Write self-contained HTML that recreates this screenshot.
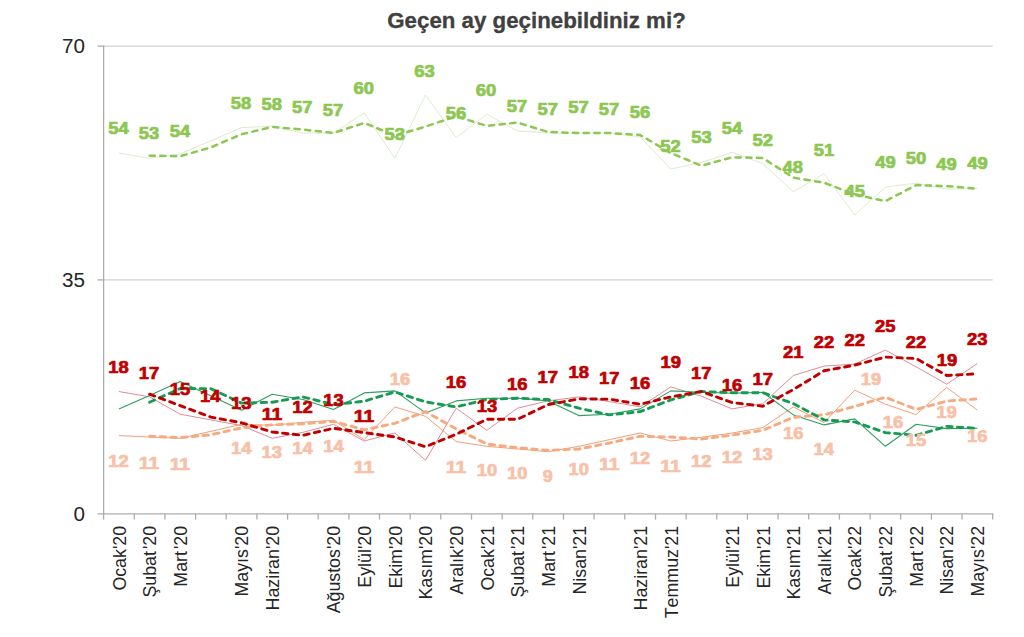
<!DOCTYPE html>
<html><head><meta charset="utf-8"><title>Chart</title>
<style>html,body{margin:0;padding:0;background:#fff;}body{width:1024px;height:637px;overflow:hidden;font-family:"Liberation Sans",sans-serif;}svg{display:block;position:absolute;left:0;top:0;font-family:"Liberation Sans",sans-serif;}</style></head><body>
<svg width="1024" height="637" viewBox="0 0 1024 637">
<rect width="1024" height="637" fill="#fff"/>
<text x="536.5" y="28.2" text-anchor="middle" font-weight="bold" font-size="21.80" fill="#404040" stroke="#404040" stroke-width="0.30" textLength="298.5" lengthAdjust="spacingAndGlyphs">Geçen ay geçinebildiniz mi?</text>
<line x1="103.6" y1="46.1" x2="992.7" y2="46.1" stroke="#d2d2d2" stroke-width="1.2"/>
<line x1="103.6" y1="279.9" x2="992.7" y2="279.9" stroke="#d2d2d2" stroke-width="1.2"/>
<line x1="103.6" y1="46.1" x2="103.6" y2="514.4" stroke="#adadad" stroke-width="1.3"/>
<line x1="97.6" y1="513.8" x2="993.3" y2="513.8" stroke="#adadad" stroke-width="1.3"/>
<line x1="97.6" y1="46.1" x2="104.2" y2="46.1" stroke="#adadad" stroke-width="1.3"/>
<line x1="97.6" y1="279.9" x2="104.2" y2="279.9" stroke="#adadad" stroke-width="1.3"/>
<line x1="103.6" y1="513.8" x2="103.6" y2="519.6" stroke="#adadad" stroke-width="1.3"/>
<line x1="134.3" y1="513.8" x2="134.3" y2="519.6" stroke="#adadad" stroke-width="1.3"/>
<line x1="164.9" y1="513.8" x2="164.9" y2="519.6" stroke="#adadad" stroke-width="1.3"/>
<line x1="195.6" y1="513.8" x2="195.6" y2="519.6" stroke="#adadad" stroke-width="1.3"/>
<line x1="226.2" y1="513.8" x2="226.2" y2="519.6" stroke="#adadad" stroke-width="1.3"/>
<line x1="256.9" y1="513.8" x2="256.9" y2="519.6" stroke="#adadad" stroke-width="1.3"/>
<line x1="287.6" y1="513.8" x2="287.6" y2="519.6" stroke="#adadad" stroke-width="1.3"/>
<line x1="318.2" y1="513.8" x2="318.2" y2="519.6" stroke="#adadad" stroke-width="1.3"/>
<line x1="348.9" y1="513.8" x2="348.9" y2="519.6" stroke="#adadad" stroke-width="1.3"/>
<line x1="379.5" y1="513.8" x2="379.5" y2="519.6" stroke="#adadad" stroke-width="1.3"/>
<line x1="410.2" y1="513.8" x2="410.2" y2="519.6" stroke="#adadad" stroke-width="1.3"/>
<line x1="440.8" y1="513.8" x2="440.8" y2="519.6" stroke="#adadad" stroke-width="1.3"/>
<line x1="471.5" y1="513.8" x2="471.5" y2="519.6" stroke="#adadad" stroke-width="1.3"/>
<line x1="502.2" y1="513.8" x2="502.2" y2="519.6" stroke="#adadad" stroke-width="1.3"/>
<line x1="532.8" y1="513.8" x2="532.8" y2="519.6" stroke="#adadad" stroke-width="1.3"/>
<line x1="563.5" y1="513.8" x2="563.5" y2="519.6" stroke="#adadad" stroke-width="1.3"/>
<line x1="594.1" y1="513.8" x2="594.1" y2="519.6" stroke="#adadad" stroke-width="1.3"/>
<line x1="624.8" y1="513.8" x2="624.8" y2="519.6" stroke="#adadad" stroke-width="1.3"/>
<line x1="655.5" y1="513.8" x2="655.5" y2="519.6" stroke="#adadad" stroke-width="1.3"/>
<line x1="686.1" y1="513.8" x2="686.1" y2="519.6" stroke="#adadad" stroke-width="1.3"/>
<line x1="716.8" y1="513.8" x2="716.8" y2="519.6" stroke="#adadad" stroke-width="1.3"/>
<line x1="747.4" y1="513.8" x2="747.4" y2="519.6" stroke="#adadad" stroke-width="1.3"/>
<line x1="778.1" y1="513.8" x2="778.1" y2="519.6" stroke="#adadad" stroke-width="1.3"/>
<line x1="808.7" y1="513.8" x2="808.7" y2="519.6" stroke="#adadad" stroke-width="1.3"/>
<line x1="839.4" y1="513.8" x2="839.4" y2="519.6" stroke="#adadad" stroke-width="1.3"/>
<line x1="870.1" y1="513.8" x2="870.1" y2="519.6" stroke="#adadad" stroke-width="1.3"/>
<line x1="900.7" y1="513.8" x2="900.7" y2="519.6" stroke="#adadad" stroke-width="1.3"/>
<line x1="931.4" y1="513.8" x2="931.4" y2="519.6" stroke="#adadad" stroke-width="1.3"/>
<line x1="962.0" y1="513.8" x2="962.0" y2="519.6" stroke="#adadad" stroke-width="1.3"/>
<line x1="992.7" y1="513.8" x2="992.7" y2="519.6" stroke="#adadad" stroke-width="1.3"/>
<text x="85.0" y="53.0" text-anchor="end" font-size="19.30" fill="#262626" textLength="23.0" lengthAdjust="spacingAndGlyphs">70</text>
<text x="85.0" y="286.8" text-anchor="end" font-size="19.30" fill="#262626" textLength="23.0" lengthAdjust="spacingAndGlyphs">35</text>
<text x="85.0" y="520.7" text-anchor="end" font-size="19.30" fill="#262626" textLength="11.5" lengthAdjust="spacingAndGlyphs">0</text>
<text transform="translate(125.6 525.9) rotate(-90) scale(1 1.070)" text-anchor="end" font-size="17.80" fill="#262626" style="font-kerning:none">Ocak'20</text>
<text transform="translate(156.3 525.9) rotate(-90) scale(1 1.070)" text-anchor="end" font-size="17.80" fill="#262626" style="font-kerning:none">Şubat<tspan dx="2">'</tspan>20</text>
<text transform="translate(186.9 525.9) rotate(-90) scale(1 1.070)" text-anchor="end" font-size="17.80" fill="#262626" style="font-kerning:none">Mart<tspan dx="2">'</tspan>20</text>
<text transform="translate(248.3 525.9) rotate(-90) scale(1 1.070)" text-anchor="end" font-size="17.80" fill="#262626" style="font-kerning:none">Mayıs'20</text>
<text transform="translate(278.9 525.9) rotate(-90) scale(1 1.070)" text-anchor="end" font-size="17.80" fill="#262626" style="font-kerning:none">Haziran'20</text>
<text transform="translate(340.2 525.9) rotate(-90) scale(1 1.070)" text-anchor="end" font-size="17.80" fill="#262626" style="font-kerning:none">Ağustos'20</text>
<text transform="translate(370.9 525.9) rotate(-90) scale(1 1.070)" text-anchor="end" font-size="17.80" fill="#262626" style="font-kerning:none">Eylül'20</text>
<text transform="translate(401.6 525.9) rotate(-90) scale(1 1.070)" text-anchor="end" font-size="17.80" fill="#262626" style="font-kerning:none">Ekim'20</text>
<text transform="translate(432.2 525.9) rotate(-90) scale(1 1.070)" text-anchor="end" font-size="17.80" fill="#262626" style="font-kerning:none">Kasım'20</text>
<text transform="translate(462.9 525.9) rotate(-90) scale(1 1.070)" text-anchor="end" font-size="17.80" fill="#262626" style="font-kerning:none">Aralık'20</text>
<text transform="translate(493.5 525.9) rotate(-90) scale(1 1.070)" text-anchor="end" font-size="17.80" fill="#262626" style="font-kerning:none">Ocak'21</text>
<text transform="translate(524.2 525.9) rotate(-90) scale(1 1.070)" text-anchor="end" font-size="17.80" fill="#262626" style="font-kerning:none">Şubat<tspan dx="2">'</tspan>21</text>
<text transform="translate(554.9 525.9) rotate(-90) scale(1 1.070)" text-anchor="end" font-size="17.80" fill="#262626" style="font-kerning:none">Mart<tspan dx="2">'</tspan>21</text>
<text transform="translate(585.5 525.9) rotate(-90) scale(1 1.070)" text-anchor="end" font-size="17.80" fill="#262626" style="font-kerning:none">Nisan'21</text>
<text transform="translate(646.8 525.9) rotate(-90) scale(1 1.070)" text-anchor="end" font-size="17.80" fill="#262626" style="font-kerning:none">Haziran'21</text>
<text transform="translate(677.5 525.9) rotate(-90) scale(1 1.070)" text-anchor="end" font-size="17.80" fill="#262626" style="font-kerning:none">Temmuz'21</text>
<text transform="translate(738.8 525.9) rotate(-90) scale(1 1.070)" text-anchor="end" font-size="17.80" fill="#262626" style="font-kerning:none">Eylül'21</text>
<text transform="translate(769.5 525.9) rotate(-90) scale(1 1.070)" text-anchor="end" font-size="17.80" fill="#262626" style="font-kerning:none">Ekim'21</text>
<text transform="translate(800.1 525.9) rotate(-90) scale(1 1.070)" text-anchor="end" font-size="17.80" fill="#262626" style="font-kerning:none">Kasım'21</text>
<text transform="translate(830.8 525.9) rotate(-90) scale(1 1.070)" text-anchor="end" font-size="17.80" fill="#262626" style="font-kerning:none">Aralık'21</text>
<text transform="translate(861.4 525.9) rotate(-90) scale(1 1.070)" text-anchor="end" font-size="17.80" fill="#262626" style="font-kerning:none">Ocak'22</text>
<text transform="translate(892.1 525.9) rotate(-90) scale(1 1.070)" text-anchor="end" font-size="17.80" fill="#262626" style="font-kerning:none">Şubat<tspan dx="2">'</tspan>22</text>
<text transform="translate(922.8 525.9) rotate(-90) scale(1 1.070)" text-anchor="end" font-size="17.80" fill="#262626" style="font-kerning:none">Mart<tspan dx="2">'</tspan>22</text>
<text transform="translate(953.4 525.9) rotate(-90) scale(1 1.070)" text-anchor="end" font-size="17.80" fill="#262626" style="font-kerning:none">Nisan'22</text>
<text transform="translate(984.1 525.9) rotate(-90) scale(1 1.070)" text-anchor="end" font-size="17.80" fill="#262626" style="font-kerning:none">Mayıs'22</text>
<path d="M118.9 153.0 L149.6 158.3 L180.2 154.0 L241.6 127.6 L272.2 126.3 L302.9 133.0 L333.5 133.0 L364.2 112.9 L394.9 158.3 L425.5 94.9 L456.2 137.6 L486.8 114.3 L517.5 131.0 L548.1 133.0 L578.8 133.0 L609.5 133.0 L640.1 137.0 L670.8 169.0 L701.4 162.4 L732.1 152.3 L762.8 163.7 L793.4 191.8 L824.1 173.7 L854.7 215.1 L885.4 187.1 L916.1 183.1 L946.7 189.1 L977.4 188.4" fill="none" stroke="#d6e7c6" stroke-width="0.85" stroke-linejoin="round"/>
<path d="M118.9 435.6 L149.6 437.0 L180.2 438.3 L241.6 424.3 L272.2 425.3 L302.9 422.3 L333.5 420.3 L364.2 439.6 L394.9 406.9 L425.5 416.3 L456.2 441.6 L486.8 446.3 L517.5 449.0 L548.1 451.7 L578.8 446.3 L609.5 439.6 L640.1 433.0 L670.8 441.0 L701.4 437.3 L732.1 433.0 L762.8 427.6 L793.4 406.9 L824.1 422.6 L854.7 390.2 L885.4 404.2 L916.1 414.6 L946.7 387.5 L977.4 410.2" fill="none" stroke="#f09a72" stroke-width="0.95" stroke-linejoin="round"/>
<path d="M118.9 391.5 L149.6 396.9 L180.2 414.2 L241.6 425.6 L272.2 438.3 L302.9 432.3 L333.5 424.3 L364.2 441.0 L394.9 433.0 L425.5 460.3 L456.2 408.2 L486.8 430.3 L517.5 408.2 L548.1 400.9 L578.8 396.9 L609.5 401.6 L640.1 406.9 L670.8 386.9 L701.4 396.2 L732.1 408.9 L762.8 403.6 L793.4 375.5 L824.1 366.1 L854.7 364.1 L885.4 350.1 L916.1 366.8 L946.7 384.2 L977.4 363.5" fill="none" stroke="#dc7f8a" stroke-width="0.90" stroke-linejoin="round"/>
<path d="M118.9 408.9 L149.6 395.5 L180.2 381.5 L241.6 410.2 L272.2 394.2 L302.9 399.5 L333.5 409.6 L364.2 392.9 L394.9 390.9 L425.5 412.9 L456.2 400.9 L486.8 398.2 L517.5 398.2 L548.1 400.9 L578.8 415.6 L609.5 414.2 L640.1 408.9 L670.8 390.9 L701.4 392.2 L732.1 393.2 L762.8 392.2 L793.4 414.9 L824.1 424.9 L854.7 418.9 L885.4 446.3 L916.1 424.3 L946.7 428.6 L977.4 428.3" fill="none" stroke="#2e9e63" stroke-width="1.10" stroke-linejoin="round"/>
<path d="M149.6 155.7 L180.2 156.2 L210.9 147.4 L241.6 134.2 L272.2 126.9 L302.9 129.6 L333.5 133.0 L364.2 122.9 L394.9 135.6 L425.5 126.6 L456.2 116.3 L486.8 125.9 L517.5 122.6 L548.1 132.0 L578.8 133.0 L609.5 133.0 L640.1 135.0 L670.8 153.0 L701.4 165.7 L732.1 157.3 L762.8 158.0 L793.4 177.7 L824.1 182.7 L854.7 194.4 L885.4 201.1 L916.1 185.1 L946.7 186.1 L977.4 188.7" fill="none" stroke="#8cc751" stroke-width="2.50" stroke-dasharray="5.2 5.5" stroke-linejoin="round" stroke-linecap="round"/>
<path d="M149.6 436.3 L180.2 437.6 L210.9 434.8 L241.6 427.8 L272.2 424.8 L302.9 423.8 L333.5 421.3 L364.2 429.9 L394.9 423.3 L425.5 411.6 L456.2 428.9 L486.8 444.0 L517.5 447.7 L548.1 450.3 L578.8 449.0 L609.5 443.0 L640.1 436.3 L670.8 437.0 L701.4 439.1 L732.1 435.1 L762.8 430.3 L793.4 417.3 L824.1 414.7 L854.7 406.4 L885.4 397.2 L916.1 409.4 L946.7 401.1 L977.4 398.9" fill="none" stroke="#f5aa80" stroke-width="2.90" stroke-dasharray="5.4 5.3" stroke-linejoin="round" stroke-linecap="round"/>
<path d="M149.6 402.2 L180.2 388.5 L210.9 388.7 L241.6 403.1 L272.2 402.2 L302.9 396.9 L333.5 404.6 L364.2 401.2 L394.9 391.9 L425.5 401.9 L456.2 406.9 L486.8 399.5 L517.5 398.2 L548.1 399.5 L578.8 408.2 L609.5 414.9 L640.1 411.6 L670.8 399.9 L701.4 391.5 L732.1 392.7 L762.8 392.7 L793.4 403.6 L824.1 419.9 L854.7 421.9 L885.4 432.6 L916.1 435.3 L946.7 426.4 L977.4 428.4" fill="none" stroke="#179b52" stroke-width="2.90" stroke-dasharray="5.4 5.3" stroke-linejoin="round" stroke-linecap="round"/>
<path d="M149.6 394.2 L180.2 405.6 L210.9 417.1 L241.6 422.8 L272.2 432.0 L302.9 435.3 L333.5 428.3 L364.2 432.6 L394.9 437.0 L425.5 446.7 L456.2 434.3 L486.8 419.3 L517.5 419.3 L548.1 404.6 L578.8 398.9 L609.5 399.2 L640.1 404.2 L670.8 396.9 L701.4 391.5 L732.1 402.6 L762.8 406.2 L793.4 389.5 L824.1 370.8 L854.7 365.1 L885.4 357.1 L916.1 358.5 L946.7 375.5 L977.4 373.8" fill="none" stroke="#c00000" stroke-width="2.90" stroke-dasharray="5.4 5.3" stroke-linejoin="round" stroke-linecap="round"/>
<g font-weight="bold" font-size="16.80" fill="#8cc751" stroke="#8cc751" stroke-width="0.70" stroke-linejoin="round" text-anchor="middle">
<text x="118.6" y="134.3" textLength="20.5" lengthAdjust="spacingAndGlyphs">54</text>
<text x="149.0" y="139.2" textLength="20.5" lengthAdjust="spacingAndGlyphs">53</text>
<text x="179.9" y="136.6" textLength="20.5" lengthAdjust="spacingAndGlyphs">54</text>
<text x="240.9" y="109.3" textLength="20.5" lengthAdjust="spacingAndGlyphs">58</text>
<text x="271.7" y="110.1" textLength="20.5" lengthAdjust="spacingAndGlyphs">58</text>
<text x="302.2" y="113.1" textLength="20.5" lengthAdjust="spacingAndGlyphs">57</text>
<text x="333.0" y="115.8" textLength="20.5" lengthAdjust="spacingAndGlyphs">57</text>
<text x="363.8" y="94.4" textLength="20.5" lengthAdjust="spacingAndGlyphs">60</text>
<text x="394.8" y="139.6" textLength="20.5" lengthAdjust="spacingAndGlyphs">53</text>
<text x="424.6" y="76.8" textLength="20.5" lengthAdjust="spacingAndGlyphs">63</text>
<text x="456.0" y="119.0" textLength="20.5" lengthAdjust="spacingAndGlyphs">56</text>
<text x="486.1" y="95.6" textLength="20.5" lengthAdjust="spacingAndGlyphs">60</text>
<text x="517.1" y="112.3" textLength="20.5" lengthAdjust="spacingAndGlyphs">57</text>
<text x="547.7" y="115.3" textLength="20.5" lengthAdjust="spacingAndGlyphs">57</text>
<text x="578.4" y="112.9" textLength="20.5" lengthAdjust="spacingAndGlyphs">57</text>
<text x="609.0" y="115.3" textLength="20.5" lengthAdjust="spacingAndGlyphs">57</text>
<text x="640.0" y="117.8" textLength="20.5" lengthAdjust="spacingAndGlyphs">56</text>
<text x="670.4" y="151.5" textLength="20.5" lengthAdjust="spacingAndGlyphs">52</text>
<text x="701.4" y="142.7" textLength="20.5" lengthAdjust="spacingAndGlyphs">53</text>
<text x="732.0" y="133.9" textLength="20.5" lengthAdjust="spacingAndGlyphs">54</text>
<text x="762.7" y="146.2" textLength="20.5" lengthAdjust="spacingAndGlyphs">52</text>
<text x="792.7" y="173.1" textLength="20.5" lengthAdjust="spacingAndGlyphs">48</text>
<text x="823.9" y="155.7" textLength="20.5" lengthAdjust="spacingAndGlyphs">51</text>
<text x="854.7" y="196.7" textLength="20.5" lengthAdjust="spacingAndGlyphs">45</text>
<text x="885.4" y="167.8" textLength="20.5" lengthAdjust="spacingAndGlyphs">49</text>
<text x="916.0" y="164.3" textLength="20.5" lengthAdjust="spacingAndGlyphs">50</text>
<text x="946.6" y="169.6" textLength="20.5" lengthAdjust="spacingAndGlyphs">49</text>
<text x="977.4" y="169.2" textLength="20.5" lengthAdjust="spacingAndGlyphs">49</text>
</g>
<g font-weight="bold" font-size="16.80" fill="#f8c1a7" stroke="#f8c1a7" stroke-width="0.70" stroke-linejoin="round" text-anchor="middle">
<text x="118.6" y="466.9" textLength="20.5" lengthAdjust="spacingAndGlyphs">12</text>
<text x="149.1" y="469.4" textLength="20.5" lengthAdjust="spacingAndGlyphs">11</text>
<text x="179.9" y="469.8" textLength="20.5" lengthAdjust="spacingAndGlyphs">11</text>
<text x="241.3" y="453.5" textLength="20.5" lengthAdjust="spacingAndGlyphs">14</text>
<text x="271.7" y="458.1" textLength="20.5" lengthAdjust="spacingAndGlyphs">13</text>
<text x="302.6" y="454.1" textLength="20.5" lengthAdjust="spacingAndGlyphs">14</text>
<text x="333.4" y="451.8" textLength="20.5" lengthAdjust="spacingAndGlyphs">14</text>
<text x="364.0" y="473.4" textLength="20.5" lengthAdjust="spacingAndGlyphs">11</text>
<text x="400.1" y="385.4" textLength="20.5" lengthAdjust="spacingAndGlyphs">16</text>
<text x="456.0" y="473.4" textLength="20.5" lengthAdjust="spacingAndGlyphs">11</text>
<text x="486.9" y="475.7" textLength="20.5" lengthAdjust="spacingAndGlyphs">10</text>
<text x="517.3" y="479.0" textLength="20.5" lengthAdjust="spacingAndGlyphs">10</text>
<text x="547.7" y="481.5" textLength="10.0" lengthAdjust="spacingAndGlyphs">9</text>
<text x="578.7" y="475.0" textLength="20.5" lengthAdjust="spacingAndGlyphs">10</text>
<text x="609.2" y="470.3" textLength="20.5" lengthAdjust="spacingAndGlyphs">11</text>
<text x="640.0" y="464.0" textLength="20.5" lengthAdjust="spacingAndGlyphs">12</text>
<text x="670.6" y="472.3" textLength="20.5" lengthAdjust="spacingAndGlyphs">11</text>
<text x="701.2" y="467.0" textLength="20.5" lengthAdjust="spacingAndGlyphs">12</text>
<text x="732.0" y="462.5" textLength="20.5" lengthAdjust="spacingAndGlyphs">12</text>
<text x="762.5" y="459.8" textLength="20.5" lengthAdjust="spacingAndGlyphs">13</text>
<text x="793.3" y="438.5" textLength="20.5" lengthAdjust="spacingAndGlyphs">16</text>
<text x="823.7" y="454.6" textLength="20.5" lengthAdjust="spacingAndGlyphs">14</text>
<text x="871.0" y="385.1" textLength="20.5" lengthAdjust="spacingAndGlyphs">19</text>
<text x="892.9" y="428.4" textLength="20.5" lengthAdjust="spacingAndGlyphs">16</text>
<text x="916.1" y="446.1" textLength="20.5" lengthAdjust="spacingAndGlyphs">15</text>
<text x="946.5" y="418.0" textLength="20.5" lengthAdjust="spacingAndGlyphs">19</text>
<text x="977.2" y="441.5" textLength="20.5" lengthAdjust="spacingAndGlyphs">16</text>
</g>
<g font-weight="bold" font-size="16.80" fill="#c00000" stroke="#c00000" stroke-width="0.70" stroke-linejoin="round" text-anchor="middle">
<text x="118.6" y="372.7" textLength="20.5" lengthAdjust="spacingAndGlyphs">18</text>
<text x="149.1" y="379.0" textLength="20.5" lengthAdjust="spacingAndGlyphs">17</text>
<text x="179.9" y="395.3" textLength="20.5" lengthAdjust="spacingAndGlyphs">15</text>
<text x="210.3" y="401.7" textLength="20.5" lengthAdjust="spacingAndGlyphs">14</text>
<text x="241.3" y="408.6" textLength="20.5" lengthAdjust="spacingAndGlyphs">13</text>
<text x="272.1" y="420.2" textLength="20.5" lengthAdjust="spacingAndGlyphs">11</text>
<text x="302.6" y="412.5" textLength="20.5" lengthAdjust="spacingAndGlyphs">12</text>
<text x="333.4" y="405.5" textLength="20.5" lengthAdjust="spacingAndGlyphs">13</text>
<text x="364.0" y="421.7" textLength="20.5" lengthAdjust="spacingAndGlyphs">11</text>
<text x="456.0" y="388.4" textLength="20.5" lengthAdjust="spacingAndGlyphs">16</text>
<text x="486.9" y="411.9" textLength="20.5" lengthAdjust="spacingAndGlyphs">13</text>
<text x="517.3" y="389.8" textLength="20.5" lengthAdjust="spacingAndGlyphs">16</text>
<text x="547.7" y="382.5" textLength="20.5" lengthAdjust="spacingAndGlyphs">17</text>
<text x="578.7" y="377.6" textLength="20.5" lengthAdjust="spacingAndGlyphs">18</text>
<text x="609.2" y="383.9" textLength="20.5" lengthAdjust="spacingAndGlyphs">17</text>
<text x="640.0" y="389.4" textLength="20.5" lengthAdjust="spacingAndGlyphs">16</text>
<text x="670.8" y="367.5" textLength="20.5" lengthAdjust="spacingAndGlyphs">19</text>
<text x="701.2" y="379.3" textLength="20.5" lengthAdjust="spacingAndGlyphs">17</text>
<text x="732.0" y="390.5" textLength="20.5" lengthAdjust="spacingAndGlyphs">16</text>
<text x="762.7" y="384.6" textLength="20.5" lengthAdjust="spacingAndGlyphs">17</text>
<text x="793.3" y="357.7" textLength="20.5" lengthAdjust="spacingAndGlyphs">21</text>
<text x="823.9" y="347.9" textLength="20.5" lengthAdjust="spacingAndGlyphs">22</text>
<text x="854.7" y="346.2" textLength="20.5" lengthAdjust="spacingAndGlyphs">22</text>
<text x="885.3" y="331.8" textLength="20.5" lengthAdjust="spacingAndGlyphs">25</text>
<text x="916.0" y="348.2" textLength="20.5" lengthAdjust="spacingAndGlyphs">22</text>
<text x="946.9" y="365.7" textLength="20.5" lengthAdjust="spacingAndGlyphs">19</text>
<text x="977.3" y="344.9" textLength="20.5" lengthAdjust="spacingAndGlyphs">23</text>
</g>
</svg></body></html>
